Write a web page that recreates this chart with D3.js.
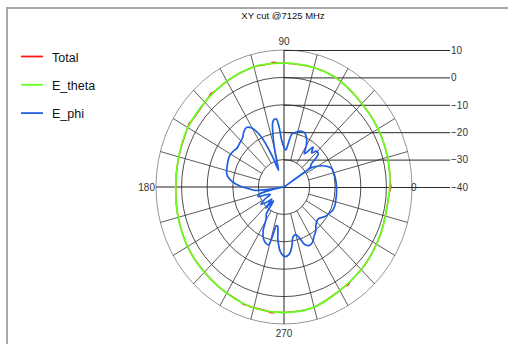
<!DOCTYPE html>
<html>
<head>
<meta charset="utf-8">
<script src="https://cdn.jsdelivr.net/npm/d3@7"></script>
<style>
  html, body { margin: 0; padding: 0; background: #fff; overflow: hidden; }
  svg { display: block; }
</style>
</head>
<body>
<svg id="chart" width="508" height="344"></svg>
<script>
// ---- data -------------------------------------------------------------
const chartTitle = "XY cut @7125 MHz";
const seriesNames = ["Total", "E_theta", "E_phi"];
const seriesColors = ["#ff1a1a", "#66ff22", "#1f5ee0"];
const radialTicks = [10, 0, -10, -20, -30, -40];
const angleLabels = [0, 90, 180, 270];

// E_theta (degrees, dB)
const thetaAngles = [0, 7, 15, 26, 35, 45, 55, 64, 75, 90, 105, 120, 134, 151, 167, 180, 195, 213, 234, 253, 270, 284, 299, 318, 335, 350];
const thetaDb     = [1.3, 1.6, 1.9, 2.3, 2.6, 3.0, 3.9, 4.8, 5.1, 5.2, 5.4, 4.6, 3.8, 3.3, 2.5, 2.3, 2.8, 3.6, 4.4, 5.6, 5.8, 5.5, 3.7, 2.5, 1.5, 0.9];

// Total (degrees, dB) - runs just on or slightly outside E_theta
const totalAngles = [0, 3, 7, 15, 26, 35, 45, 55, 64, 75, 90, 93, 95, 97, 105, 120, 128, 130, 132, 134, 146, 148, 150, 151, 167, 180, 195, 213, 234, 248, 250, 252, 253, 262, 264, 266, 270, 284, 299, 303, 305, 307, 318, 335, 350, 357];
const totalDb     = [1.75, 1.45, 1.6, 1.9, 2.3, 2.6, 3.0, 3.9, 4.8, 5.1, 5.2, 5.25, 5.7, 5.3, 5.4, 4.6, 4.15, 4.5, 4.0, 3.8, 3.4, 3.75, 3.35, 3.3, 2.5, 2.3, 2.8, 3.6, 4.4, 5.25, 5.7, 5.45, 5.6, 5.8, 6.2, 5.85, 5.8, 5.5, 3.7, 3.35, 3.65, 3.15, 2.5, 1.5, 0.9, 1.15];

// E_phi (degrees, dB)
const phiAngles = [0, 5, 10, 15, 20, 24, 28, 31, 33, 34, 35, 38, 42, 46, 49, 52, 55, 57, 60, 64, 68, 72, 77, 81, 84, 87, 90, 93, 95, 97, 100, 103, 106, 109, 112, 116, 120, 124, 128, 132, 137, 142, 147, 152, 157, 162, 167, 171, 175, 179, 183, 186, 188, 190, 192, 195, 199, 203, 207, 211, 215, 219, 223, 227, 231, 235, 239, 243, 247, 251, 254, 256, 258, 260, 263, 267, 271, 275, 278, 281, 285, 288, 291, 295, 299, 303, 307, 311, 315, 319, 323, 327, 331, 336, 341, 346, 351, 356];
const phiDb     = [-19.5, -19.6, -19.7, -19.9, -20.2, -21.5, -23.5, -25.5, -27, -45, -27.5, -26.5, -22, -21.8, -23.5, -21.5, -24.5, -25.5, -22.5, -20, -18.6, -18.6, -19.5, -20.5, -24, -26.5, -25.5, -23, -18, -15, -15.5, -21, -28.5, -33.5, -28, -19.5, -15.2, -13.8, -14.5, -15.8, -16.4, -16.8, -16.2, -15.9, -16.2, -16.6, -17, -18, -20, -23, -26.5, -28.5, -34, -45, -35, -30, -29.3, -33, -34, -31, -29, -31, -33.5, -29.5, -33.5, -28, -26.5, -22, -19.5, -18.3, -18, -21.5, -25.5, -25.5, -20.5, -16, -14.6, -15.5, -18, -21.5, -22, -20.5, -17.5, -16.5, -17, -18.5, -19.5, -21, -22, -22.3, -21.5, -20.5, -20, -19.2, -19, -19.2, -19.3, -19.4];

// ---- layout -------------------------------------------------------------
const W = 508, H = 344;
const cx = 284, cy = 187, RX = 128, RY = 137;
const FONT = "'Liberation Sans', Arial, sans-serif";

const svg = d3.select("#chart");

// radial scales (the plot area is slightly taller than wide)
const rX = d3.scaleLinear().domain([-40, 10]).range([0, RX]).clamp(true);
const rY = d3.scaleLinear().domain([-40, 10]).range([0, RY]).clamp(true);
const ang = d3.scaleLinear().domain([0, 360]).range([0, 2 * Math.PI]);
const px = (a, v) => cx + rX(v) * Math.cos(ang(a));
const py = (a, v) => cy - rY(v) * Math.sin(ang(a));

// frame
svg.append("path")
  .attr("d", `M7,${H} V8 H${W}`)
  .attr("fill", "none")
  .attr("stroke", "#a8a8a8")
  .attr("stroke-width", 2);

// title
svg.append("text")
  .attr("x", 283).attr("y", 19)
  .attr("text-anchor", "middle")
  .attr("font-family", FONT).attr("font-size", 9.5)
  .attr("fill", "#111")
  .text(chartTitle);

// ---- grid -------------------------------------------------------------
const grid = svg.append("g");
grid.selectAll("ellipse")
  .data(radialTicks.filter(v => v > -40))
  .join("ellipse")
  .attr("cx", cx).attr("cy", cy)
  .attr("rx", d => rX(d)).attr("ry", d => rY(d))
  .attr("fill", "none")
  .attr("stroke", d => d === 10 ? "#8a8a8a" : "#3a3a3a")
  .attr("stroke-width", 0.9);

// spokes every 15 degrees, from the innermost ring outwards
grid.selectAll("line.spoke")
  .data(d3.range(0, 360, 15).filter(a => a % 90 !== 0))
  .join("line")
  .attr("class", "spoke")
  .attr("x1", a => px(a, -30)).attr("y1", a => py(a, -30))
  .attr("x2", a => px(a, 10)).attr("y2", a => py(a, 10))
  .attr("stroke", "#333").attr("stroke-width", 0.8);

// main axes through the centre
grid.append("line")
  .attr("x1", px(180, 10)).attr("y1", cy).attr("x2", cx).attr("y2", cy)
  .attr("stroke", "#222").attr("stroke-width", 1);
grid.append("line")
  .attr("x1", cx).attr("y1", py(90, 10)).attr("x2", cx).attr("y2", py(270, 10))
  .attr("stroke", "#222").attr("stroke-width", 1);

// radial dB scale: horizontal guide lines running to the labels on the right
const axisX = 450;
const yLevel = d3.scaleLinear().domain([-40, 10]).range([cy, cy - RY]);
const rAxis = svg.append("g")
  .attr("transform", `translate(${axisX},0)`)
  .call(d3.axisRight(yLevel).tickValues(radialTicks).tickSize(-(axisX - cx)).tickPadding(1).tickFormat(d3.format("d")));
rAxis.select(".domain").remove();
rAxis.selectAll(".tick line").attr("stroke", "#2a2a2a").attr("stroke-width", 1);
rAxis.selectAll(".tick text")
  .attr("font-family", FONT).attr("font-size", 10)
  .attr("fill", "#333");

// ---- series -------------------------------------------------------------
const line = d3.line()
  .x(d => px(d[0], d[1]))
  .y(d => py(d[0], d[1]))
  .curve(d3.curveCatmullRomClosed.alpha(0.5));

const totalPts = totalAngles.map((a, i) => [a, totalDb[i]]);
const thetaPts = thetaAngles.map((a, i) => [a, thetaDb[i]]);
const phiPts = phiAngles.map((a, i) => [a, phiDb[i]]);

svg.append("path").attr("d", line(totalPts))
  .attr("fill", "none").attr("stroke", seriesColors[0]).attr("stroke-width", 1.4);
svg.append("path").attr("d", line(thetaPts))
  .attr("fill", "none").attr("stroke", seriesColors[1]).attr("stroke-width", 1.8);
svg.append("path").attr("d", line(phiPts))
  .attr("fill", "none").attr("stroke", seriesColors[2]).attr("stroke-width", 1.7)
  .attr("stroke-linejoin", "round");

// ---- angle labels -------------------------------------------------------
const angLab = svg.append("g")
  .attr("font-family", FONT).attr("font-size", 10).attr("fill", "#333");
angleLabels.forEach(a => {
  const t = angLab.append("text").text(a);
  if (a === 0) {
    t.attr("x", px(0, 10) - 1).attr("y", cy + 3.5).attr("text-anchor", "start");
  } else if (a === 180) {
    t.attr("x", px(180, 10) - 1).attr("y", cy + 3.5).attr("text-anchor", "end");
  } else if (a === 90) {
    t.attr("x", cx).attr("y", py(90, 10) - 5).attr("text-anchor", "middle");
  } else {
    t.attr("x", cx).attr("y", py(270, 10) + 13).attr("text-anchor", "middle");
  }
});

// ---- legend -------------------------------------------------------------
const legend = svg.append("g");
seriesNames.forEach((name, i) => {
  const y = 56.5 + i * 28.3;
  legend.append("line")
    .attr("x1", 21).attr("x2", 43).attr("y1", y).attr("y2", y)
    .attr("stroke", seriesColors[i]).attr("stroke-width", 1.8);
  legend.append("text")
    .attr("x", 52).attr("y", y + 5)
    .attr("font-family", FONT).attr("font-size", 12.5)
    .attr("fill", "#111")
    .text(name);
});
</script>
</body>
</html>
